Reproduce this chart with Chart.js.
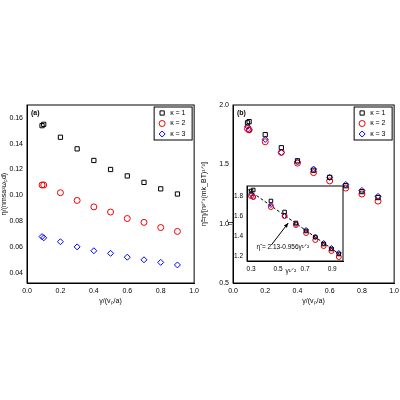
<!DOCTYPE html><html><head><script src="https://cdn.jsdelivr.net/npm/chart.js@4"></script>
<style>body{margin:0;background:#fff}canvas{position:absolute}</style></head><body>
<canvas id="a" style="left:0;top:95px;width:200px;height:210px"></canvas>
<canvas id="b" style="left:200px;top:95px;width:200px;height:210px"></canvas>
<canvas id="c" style="left:226px;top:176px;width:122px;height:100px"></canvas>
<script>
const gamma=[0.09,0.1,0.2,0.3,0.4,0.5,0.6,0.7,0.8,0.9];
const sqrtGamma=[0.30,0.316,0.447,0.548,0.632,0.707,0.775,0.837,0.894,0.949];
const etaK1=[0.154,0.155,0.145,0.136,0.127,0.120,0.115,0.110,0.105,0.101];
const etaK2=[0.108,0.108,0.102,0.096,0.091,0.087,0.082,0.079,0.075,0.072];
const etaK3=[0.068,0.067,0.064,0.060,0.057,0.055,0.052,0.050,0.048,0.046];
const redK1=[1.85,1.86,1.75,1.64,1.53,1.45,1.39,1.32,1.27,1.22];
const redK2=[1.80,1.79,1.69,1.60,1.51,1.43,1.36,1.30,1.25,1.19];
const redK3=[1.82,1.79,1.71,1.60,1.52,1.46,1.39,1.33,1.28,1.23];
const fitA=2.13, fitB=0.956, fitX=[0.28,0.96];
const ticksA=[0.04,0.06,0.08,0.10,0.12,0.14,0.16];
const ticksB=[0.5,1.0,1.5,2.0];
const ticksCx=[0.3,0.5,0.7,0.9], ticksCy=[1.2,1.4,1.6,1.8];
const labels=['κ = 1','κ = 2','κ = 3'];
const styles=[['rect','#000'],['circle','#e00'],['rectRot','#00f']];
Chart.defaults.font.family='Liberation Sans, Arial';Chart.defaults.font.size=7;Chart.defaults.color='#000';Chart.defaults.animation=false;
function ds(xs,ys,i,r){return{label:labels[i],data:xs.map((x,j)=>({x,y:ys[j]})),pointStyle:styles[i][0],borderColor:styles[i][1],backgroundColor:'transparent',pointRadius:r,pointBorderWidth:1,showLine:false};}
const frame={id:'frame',afterDraw(c){const a=c.chartArea,x=c.ctx;x.save();x.strokeStyle='#000';x.lineWidth=1;x.strokeRect(a.left,a.top,a.right-a.left,a.bottom-a.top);x.restore();}};
function tag(t){return{id:'tag',afterDraw(c){const a=c.chartArea,x=c.ctx;x.save();x.font='bold 7px Liberation Sans';x.fillText(t,a.left+4,a.top+10);x.restore();}};}
const legend={id:'leg',afterDraw(c){const a=c.chartArea,x=c.ctx;const x0=a.right-40,y0=a.top+2;x.save();x.strokeStyle='#000';x.lineWidth=1;x.strokeRect(x0,y0,38,33);x.font='7px Liberation Sans';x.textBaseline='middle';
 c.data.datasets.forEach((d,i)=>{const yy=y0+6+i*10.5;Chart.helpers.drawPoint(x,{pointStyle:d.pointStyle,radius:3,borderWidth:1},x0+7,yy);x.fillStyle='#000';x.fillText(d.label,x0+16,yy);});
 x.restore();}};
// draw point colours in legend
legend.afterDraw=(function(orig){return function(c){const x=c.ctx;const a=c.chartArea;const x0=a.right-40,y0=a.top+2;x.save();x.strokeStyle='#000';x.lineWidth=1;x.strokeRect(x0,y0,38,33);x.font='7px Liberation Sans';x.textBaseline='middle';
 c.data.datasets.forEach((d,i)=>{const yy=y0+6+i*10.5;x.strokeStyle=d.borderColor;x.fillStyle='transparent';Chart.helpers.drawPoint(x,{pointStyle:d.pointStyle,radius:3,borderWidth:1},x0+8,yy);x.fillStyle='#000';x.fillText(d.label,x0+16,yy);});
 x.restore();};})();
function scales(xmin,xmax,xt,xticks,xdec,ymin,ymax,yt,yticks,ydec,yw,xh,fs){return{
 x:{type:'linear',min:xmin,max:xmax,afterBuildTicks:s=>{s.ticks=xticks.map(v=>({value:v}))},ticks:{autoSkip:false,maxRotation:0,padding:1,font:{size:fs},callback:v=>v.toFixed(xdec)},grid:{display:false,drawTicks:true,tickLength:3},border:{color:'#000'},title:{display:!!xt,text:xt,padding:0,font:{size:7}},afterFit:s=>{s.height=xh}},
 y:{type:'linear',min:ymin,max:ymax,afterBuildTicks:s=>{s.ticks=yticks.map(v=>({value:v}))},ticks:{autoSkip:false,padding:1,font:{size:fs},callback:v=>v.toFixed(ydec)},grid:{display:false,tickLength:3},border:{color:'#000'},title:{display:!!yt,text:yt,padding:0,font:{size:7}},afterFit:s=>{s.width=yw}}};}
const xs=[0,0.2,0.4,0.6,0.8,1.0];
new Chart('a',{type:'scatter',data:{datasets:[ds(gamma,etaK1,0,3),ds(gamma,etaK2,1,3),ds(gamma,etaK3,2,3)]},
 options:{responsive:false,layout:{padding:{left:0,right:3,top:10,bottom:0}},plugins:{legend:{display:false},tooltip:{enabled:false}},
 scales:scales(0,1,'γ/(vₚ/a)',xs,1,0.032,0.17,'η/(nmsa²ωₚd)',ticksA,2,27,22,7)},plugins:[frame,tag('(a)'),legend]});
new Chart('b',{type:'scatter',data:{datasets:[ds(gamma,redK1,0,3),ds(gamma,redK2,1,3),ds(gamma,redK3,2,3)]},
 options:{responsive:false,layout:{padding:{left:0,right:4,top:10,bottom:0}},plugins:{legend:{display:false},tooltip:{enabled:false}},
 scales:scales(0,1,'γ/(vₚ/a)',xs,1,0.5,2.0,'η̃=η/[n²ᐟ³(mk_BT)¹ᐟ²]',ticksB,1,33,22,7)},plugins:[frame,tag('(b)'),legend]});
const fitLine={label:'fit',data:fitX.map(x=>({x,y:fitA-fitB*x})),showLine:true,borderColor:'#000',borderDash:[3,2],borderWidth:1,pointRadius:0,order:5};
const note={id:'note',afterDraw(c){const x=c.ctx,sx=c.scales.x,sy=c.scales.y;x.save();x.font='6.5px Liberation Sans';x.fillStyle='#000';x.fillText('η̃ = 2.13-0.956γ¹ᐟ²',sx.getPixelForValue(0.34),sy.getPixelForValue(1.27));
 const x1=sx.getPixelForValue(0.45),y1=sy.getPixelForValue(1.31),x2=sx.getPixelForValue(0.575),y2=sy.getPixelForValue(1.53);x.strokeStyle='#000';x.lineWidth=1;x.beginPath();x.moveTo(x1,y1);x.lineTo(x2,y2);x.stroke();
 const ang=Math.atan2(y2-y1,x2-x1);x.beginPath();x.moveTo(x2,y2);x.lineTo(x2-5*Math.cos(ang-0.4),y2-5*Math.sin(ang-0.4));x.lineTo(x2-5*Math.cos(ang+0.4),y2-5*Math.sin(ang+0.4));x.closePath();x.fill();
 x.font='6.5px Liberation Sans';x.fillText('γ¹ᐟ²',sx.getPixelForValue(0.555),c.chartArea.bottom+12);x.restore();}};
const white={id:'white',beforeDraw(c){c.ctx.save();c.ctx.fillStyle='#fff';c.ctx.fillRect(c.chartArea.left,c.chartArea.top,c.chartArea.right-c.chartArea.left,c.chartArea.bottom-c.chartArea.top);c.ctx.restore();}};
new Chart('c',{type:'scatter',data:{datasets:[ds(sqrtGamma,redK1,0,2.5),ds(sqrtGamma,redK2,1,2.5),ds(sqrtGamma,redK3,2,2.5),fitLine]},
 options:{responsive:false,layout:{padding:{left:0,right:5,top:10,bottom:0}},plugins:{legend:{display:false},tooltip:{enabled:false}},
 scales:scales(0.27,0.98,'',ticksCx,1,1.15,1.9,'η̃',ticksCy,1,21,15,6.5)},plugins:[white,frame,note]});
</script></body></html>
